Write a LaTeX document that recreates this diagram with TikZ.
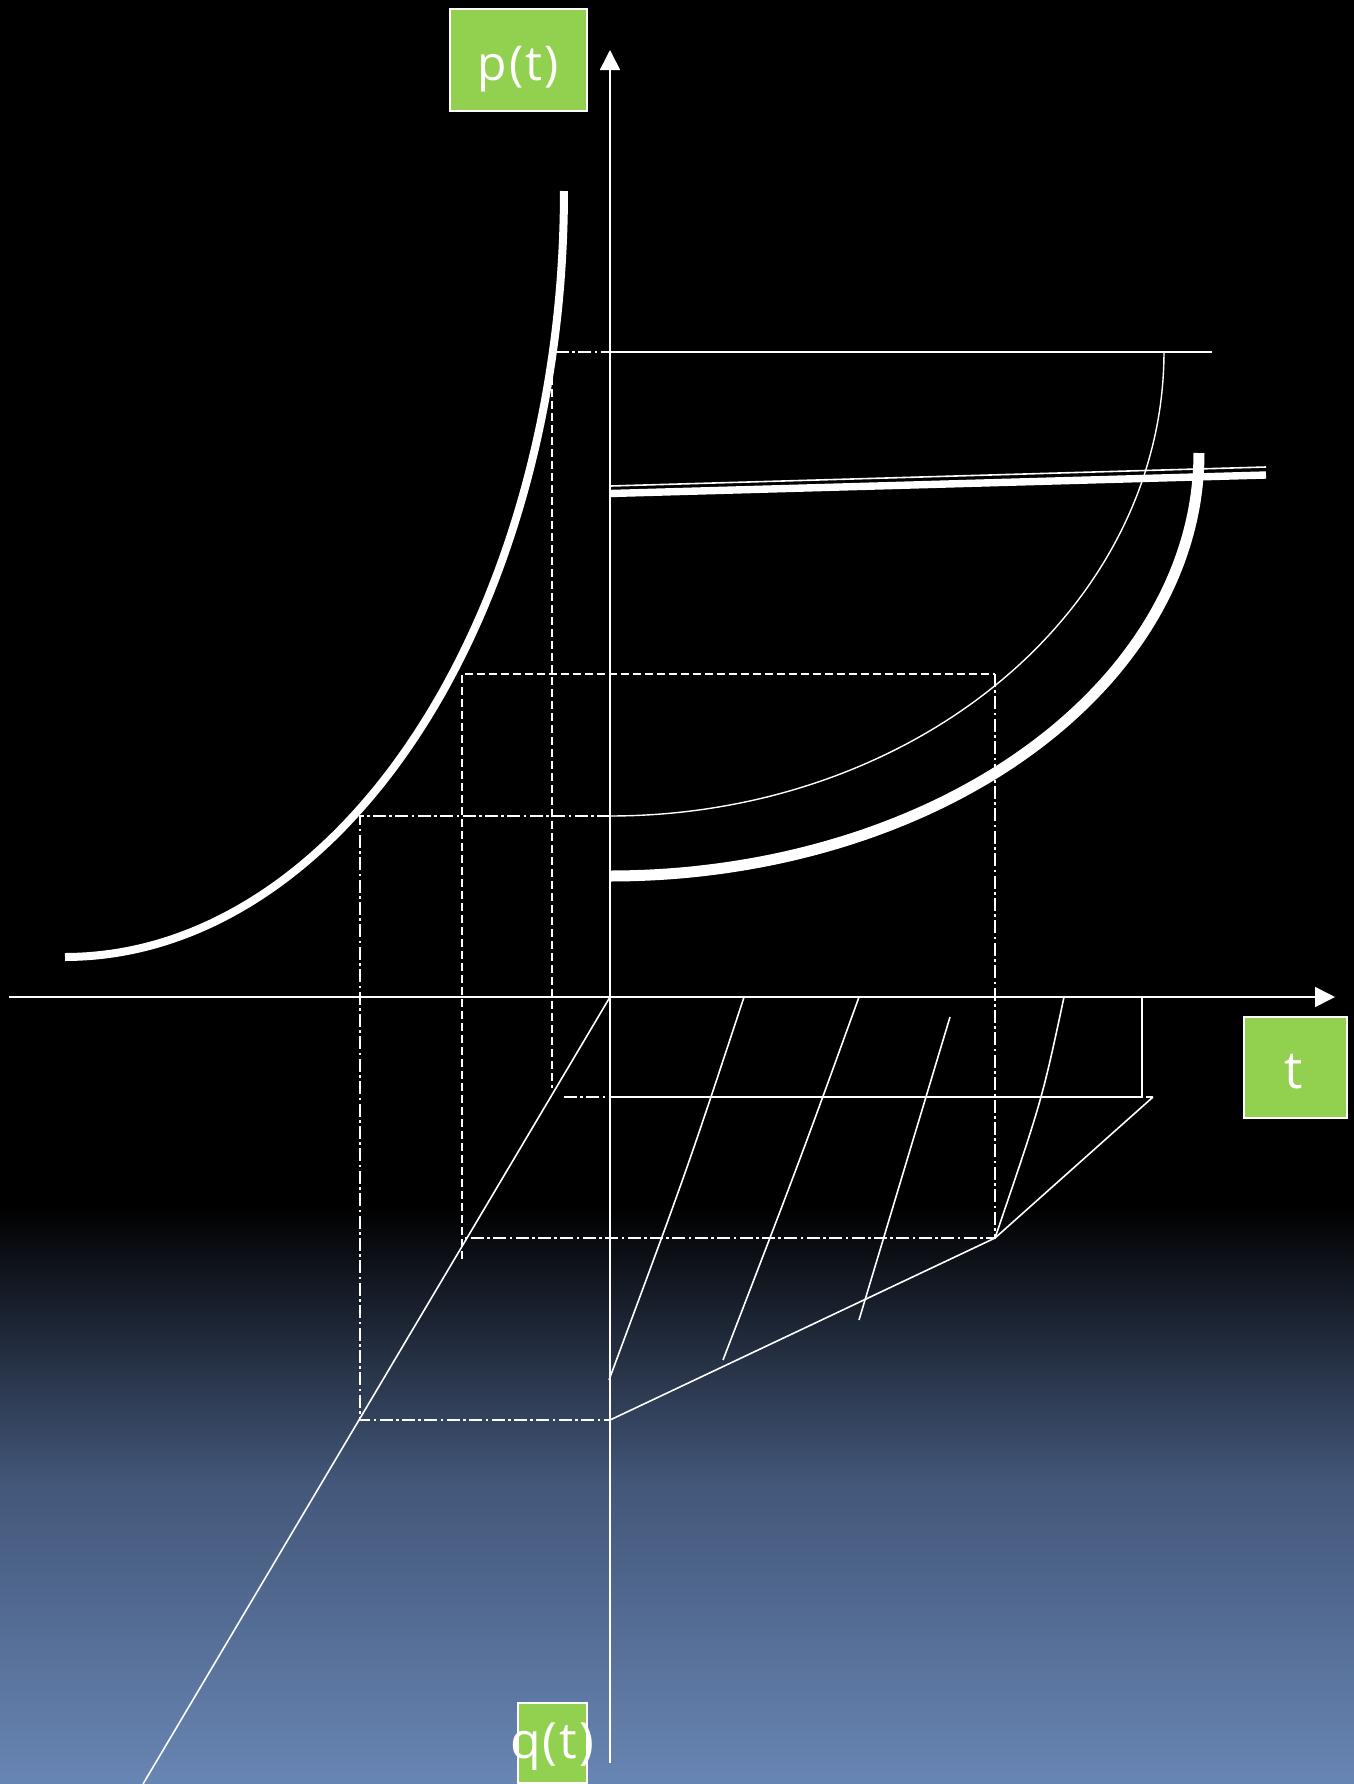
\documentclass[tikz,border=0pt]{standalone}
\usepackage{fontspec}
\setmainfont{Open Sans}
\newfontfamily\ptfont[LetterSpace=4]{Open Sans}
\newfontfamily\qtfont[LetterSpace=4]{Open Sans}
\usetikzlibrary{arrows.meta}
\definecolor{boxgreen}{RGB}{146,208,80}
\definecolor{bgmid}{RGB}{66,86,120}
\definecolor{bgbot}{RGB}{104,134,180}
\begin{document}
\begin{tikzpicture}[x=0.5pt,y=-0.5pt,
  thinline/.style={white, line width=0.8pt},
  thincurve/.style={white, line width=0.7pt},
  thickcurve/.style={white, line width=4pt},
  heavycurve/.style={white, line width=5.5pt},
  thickbar/.style={white, line width=3.7pt},
  dashline/.style={white, line width=0.8pt, dash pattern=on 4pt off 2pt},
  dashdotline/.style={white, line width=0.8pt, dash pattern=on 6.5pt off 1.7pt on 1.3pt off 1.7pt},
  axisarrow/.style={thinline, -{Triangle[length=10pt,width=10pt]}},
  labelbox/.style={draw=white, fill=boxgreen, line width=0.6pt, inner sep=0pt},
  labeltext/.style={text=white, inner sep=0pt, anchor=base},
]
\useasboundingbox (0,0) rectangle (1354,1784);
% background
\fill[black] (0,0) rectangle (1354,1784);
\shade[top color=black, bottom color=bgmid] (0,1205) rectangle (1354,1480);
\shade[top color=bgmid, bottom color=bgbot] (0,1479) rectangle (1354,1785);

% key points
\coordinate (O) at (610,997);
\coordinate (vbot) at (610,1763);
\coordinate (vtop) at (610,50);
\coordinate (hleft) at (9,997);
\coordinate (hright) at (1335,997);

% upper construction lines
\draw[dashdotline] (556,352) -- (610,352);
\draw[thinline] (610,352) -- (1212,352);
\draw[dashline] (552,377) -- (552,1088);
\draw[dashline] (462,1259) -- (462,674) -- (995,674);
\draw[dashdotline] (995,674) -- (995,1238) -- (462,1238);
\draw[dashdotline] (610,816) -- (360,816) -- (360,1420) -- (610,1420);

% near-horizontal pair
\draw[thinline] (610,486) -- (1266,467);
\draw[thickbar] (610,493.5) -- (1266,475);

% curves
\draw[thickcurve] plot[domain=0:90, samples=80, smooth, variable=\t] ({65+499*sin(\t)}, {191+766*cos(\t)});
\draw[thincurve] plot[domain=0:90, samples=80, smooth, variable=\t] ({610+554*sin(\t)}, {352+464*cos(\t)});
\draw[heavycurve] plot[domain=0:90, samples=80, smooth, variable=\t] ({610+589*sin(\t)}, {453+423*cos(\t)});

% lower part
\draw[thinline] (610,1097) -- (1142,1097) -- (1142,997);
\draw[dashdotline] (564,1097) -- (1153,1097);
\coordinate (A) at (1153,1097);
\coordinate (B) at (995,1238);
\coordinate (C) at (610,1420);
\draw[thinline] (A) -- (B) -- (C);
\coordinate (D) at (143,1784);
\draw[thinline] (O) -- (D);

% hatching
\draw[thinline] (744,997) .. controls (687,1170) .. (609,1380);
\draw[thinline] (859,997) .. controls (800,1160) .. (723,1360);
\draw[thinline] (950,1017) .. controls (910,1150) .. (859,1320);
\draw[thinline] (1064,997) .. controls (1042,1100) .. (995,1238);

% axes
\draw[axisarrow] (vbot) -- (vtop);
\draw[axisarrow] (hleft) -- (hright);

% labels
\node[labelbox, minimum width=68.5pt, minimum height=51pt] (pbox) at (518.5,60) {};
\node[labeltext] (plabel) at (518,80) {\ptfont\fontsize{24}{24}\selectfont p(t)};
\node[labelbox, minimum width=51.5pt, minimum height=50.5pt] (tbox) at (1295.5,1067.5) {};
\node[labeltext] (tlabel) at (1294,1088) {\fontsize{26}{26}\selectfont t};
\node[labelbox, minimum width=34.5pt, minimum height=40pt] (qbox) at (552.5,1743) {};
\node[labeltext] (qlabel) at (552,1758) {\qtfont\fontsize{25}{25}\selectfont q(t)};
\end{tikzpicture}
\end{document}
